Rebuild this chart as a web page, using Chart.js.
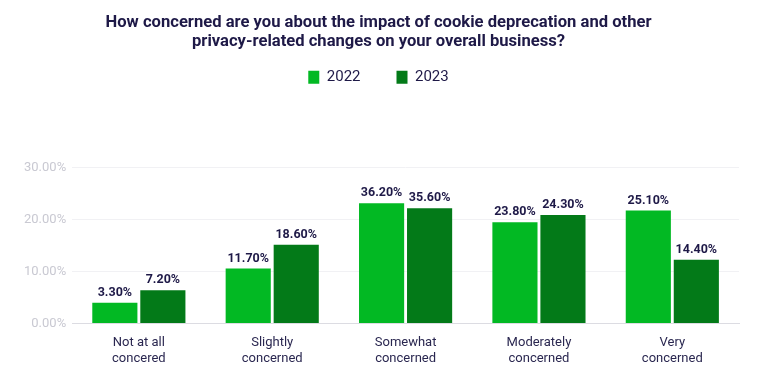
<!DOCTYPE html>
<html>
<head>
<meta charset="utf-8">
<script src="https://cdn.jsdelivr.net/npm/chart.js@4"></script>
<style>
  html, body { margin: 0; padding: 0; background: #fff; }
  #wrap { width: 777px; height: 377px; }
</style>
</head>
<body>
<div id="wrap"><canvas id="myChart" width="777" height="377"></canvas></div>
<script>
// categories shown on the x axis (two lines each)
const categories = [
  ['Not at all', 'concered'],
  ['Slightly', 'concerned'],
  ['Somewhat', 'concerned'],
  ['Moderately', 'concerned'],
  ['Very', 'concerned']
];
// bar heights as drawn in the picture (percent)
const values2022 = [4.0, 10.6, 23.2, 19.5, 21.8];
const values2023 = [6.4, 15.2, 22.2, 20.9, 12.3];
// value labels printed above the bars
const labels2022 = ['3.30%', '11.70%', '36.20%', '23.80%', '25.10%'];
const labels2023 = ['7.20%', '18.60%', '35.60%', '24.30%', '14.40%'];
const yMin = 0, yMax = 30, yStep = 10;

const navy = '#1e1947';

// push the plot area down below the legend
const legendGap = {
  id: 'legendGap',
  beforeInit(chart) {
    const lg = chart.legend;
    const origFit = lg.fit;
    lg.fit = function () {
      origFit.bind(lg)();
      this.height += 73;
    };
  }
};

// text above each bar
const barLabels = {
  id: 'barLabels',
  afterDatasetsDraw(chart) {
    const ctx = chart.ctx;
    const texts = [labels2022, labels2023];
    ctx.save();
    ctx.font = "bold 12.5px Roboto";
    ctx.fillStyle = navy;
    ctx.textAlign = 'center';
    ctx.textBaseline = 'middle';
    chart.data.datasets.forEach((ds, i) => {
      chart.getDatasetMeta(i).data.forEach((bar, j) => {
        ctx.fillText(texts[i][j], bar.x, bar.y - 10);
      });
    });
    ctx.restore();
  }
};

const ctx = document.getElementById('myChart').getContext('2d');
const chart = new Chart(ctx, {
  type: 'bar',
  data: {
    labels: categories,
    datasets: [{
      label: '2022',
      data: values2022,
      backgroundColor: '#02b923',
      borderWidth: 0,
      barPercentage: 0.94,
      categoryPercentage: 0.72
    }, {
      label: '2023',
      data: values2023,
      backgroundColor: '#037a18',
      borderWidth: 0,
      barPercentage: 0.94,
      categoryPercentage: 0.72
    }]
  },
  options: {
    responsive: false,
    animation: false,
    layout: { padding: { left: 18, right: 38, top: 0, bottom: 7 } },
    plugins: {
      title: {
        display: true,
        text: ['How concerned are you about the impact of cookie deprecation and other',
               'privacy-related changes on your overall business?'],
        color: navy,
        font: { family: 'Roboto', size: 16.6, weight: 'bold', lineHeight: 1.17 },
        padding: { top: 13, bottom: -18 }
      },
      legend: {
        display: true,
        labels: {
          color: navy,
          font: { family: 'Roboto', size: 15 },
          boxWidth: 11,
          boxHeight: 13,
          padding: 36
        }
      },
      tooltip: { enabled: false }
    },
    scales: {
      x: {
        grid: { display: false },
        border: { display: true, color: '#dcdce2', width: 1 },
        ticks: {
          color: '#2a2750',
          font: { family: 'Roboto', size: 13, lineHeight: 1.25 },
          padding: 3,
          maxRotation: 0
        }
      },
      y: {
        min: yMin,
        max: yMax,
        grid: { color: '#f1f1f4', drawTicks: false },
        border: { display: false },
        ticks: {
          stepSize: yStep,
          color: '#c9c9d2',
          font: { family: 'Roboto', size: 13 },
          padding: 6,
          callback: (v) => v.toFixed(2) + '%'
        }
      }
    }
  },
  plugins: [legendGap, barLabels]
});
</script>
</body>
</html>
